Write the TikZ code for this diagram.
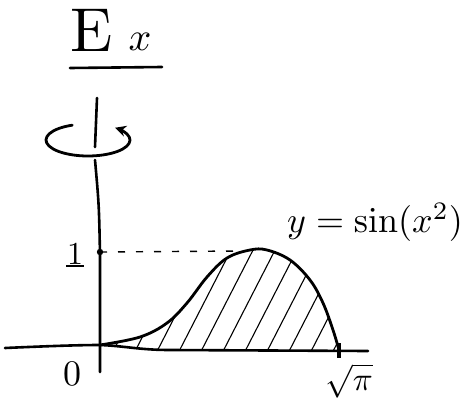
\documentclass[tikz,border=0pt]{standalone}
\usetikzlibrary{arrows.meta}
\begin{document}
\begin{tikzpicture}[x=1pt,y=1pt,
  axisline/.style={line width=2.6pt,line cap=round},
  curveline/.style={line width=2.8pt,line cap=round},
  hatchline/.style={line width=1.1pt},
  guide/.style={line width=1.4pt,dash pattern=on 7pt off 11pt},
  lbl/.style={inner sep=0pt}
]
\useasboundingbox (0,0) rectangle (473,405);
% key points
\coordinate (O) at (100,60);
\coordinate (S) at (339,55);
\coordinate (one) at (100,153);
\coordinate (xl) at (5,57);
\coordinate (xr) at (368,54);
\coordinate (xm) at (170,55);
% hatching
\begin{scope}
\path[clip] plot[smooth,tension=0.6] coordinates {(100,60) (140,68) (167,82) (187,102) (207,128) (227,147) (250,155) (267,155) (290,145) (310,125) (323,102) (333,75) (339,55)} -- (xm) .. controls (140,55) and (125,59) .. (O) -- cycle;
\foreach \x in {40,62,...,340}
  \draw[hatchline] (\x,40) -- ++(95,185);
\end{scope}
% x-axis
\draw[axisline] (xl) .. controls (50,59) and (80,60) .. (O) .. controls (125,59) and (140,55) .. (xm) -- (xr);
% y-axis (with gap behind the rotation arrow)
\draw[axisline] (97,307) -- (95,258);
\draw[axisline] (95,245) .. controls (99,200) .. (100,150) -- (100,33);
% rotation arrow
\draw[curveline,-{Stealth[length=11pt,width=11pt]}] (88,265) ++(112:42 and 16) arc[start angle=112,end angle=410,x radius=42,y radius=16];
% curve
\draw[curveline] plot[smooth,tension=0.6] coordinates {(100,60) (140,68) (167,82) (187,102) (207,128) (227,147) (250,155) (267,155) (290,145) (310,125) (323,102) (333,75) (339,55)};
% level 1
\fill (one) circle (3.2pt);
\draw[guide] (one) -- (240,154);
% tick at sqrt(pi)
\draw[line width=4.5pt] (339,62) -- (339,47);
% labels
\node[lbl,scale=6.2] (E) at (92,375) {E};
\node[lbl,scale=4] (X) at (140,363) {$x$};
\draw[axisline] (70,337) -- (162,338);
\node[lbl,scale=3.2] (lone) at (75,151) {1};
\draw[line width=2pt] (66,139) -- (84,139);
\node[lbl,scale=3.6] (zero) at (72,31) {0};
\node[lbl,scale=3.3] (sq) at (349,24) {$\sqrt{\pi}$};
\node[lbl,scale=3.6] (f) at (375,183) {$y=\sin(x^2)$};
\end{tikzpicture}
\end{document}
